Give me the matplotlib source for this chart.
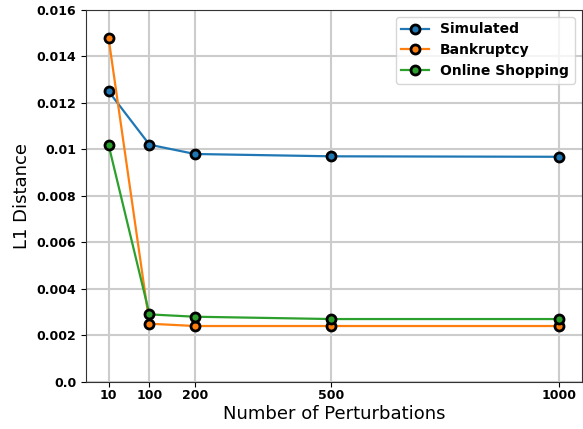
import matplotlib
matplotlib.use("Agg")
import matplotlib.pyplot as plt
from matplotlib.ticker import FuncFormatter

perturbations = [10, 100, 200, 500, 1000]
simulated = [0.0125, 0.0102, 0.0098, 0.0097, 0.00968]
bankruptcy = [0.0148, 0.0025, 0.0024, 0.0024, 0.0024]
online_shopping = [0.0102, 0.0029, 0.0028, 0.0027, 0.0027]

fig = plt.figure(figsize=(5.83, 4.29), dpi=100)
ax = fig.add_axes([0.1475, 0.11, 0.85, 0.867])

style = dict(marker='o', markersize=6.5, markeredgecolor='black', markeredgewidth=2, linewidth=1.6)
ax.plot(perturbations, simulated, label='Simulated', color='#1f77b4', **style)
ax.plot(perturbations, bankruptcy, label='Bankruptcy', color='#ff7f0e', **style)
ax.plot(perturbations, online_shopping, label='Online Shopping', color='#2ca02c', **style)

ax.set_ylim(0, 0.016)
ax.set_xticks(perturbations)
ax.set_yticks([0.0, 0.002, 0.004, 0.006, 0.008, 0.01, 0.012, 0.014, 0.016])
ax.yaxis.set_major_formatter(FuncFormatter(lambda v, p: str(round(v, 3))))
ax.tick_params(axis='x', pad=2)
for lbl in ax.get_xticklabels() + ax.get_yticklabels():
    lbl.set_fontweight('bold')
    lbl.set_fontsize(9)

for s in ax.spines.values():
    s.set_color('#333333')
ax.grid(True, color='#cccccc', linewidth=1.5)
ax.set_axisbelow(True)
ax.set_xlabel('Number of Perturbations', fontsize=13, labelpad=2)
ax.set_ylabel('L1 Distance', fontsize=13)
ax.legend(loc='upper right', prop={'weight': 'bold', 'size': 10})

fig.savefig('out.png', dpi=100)
